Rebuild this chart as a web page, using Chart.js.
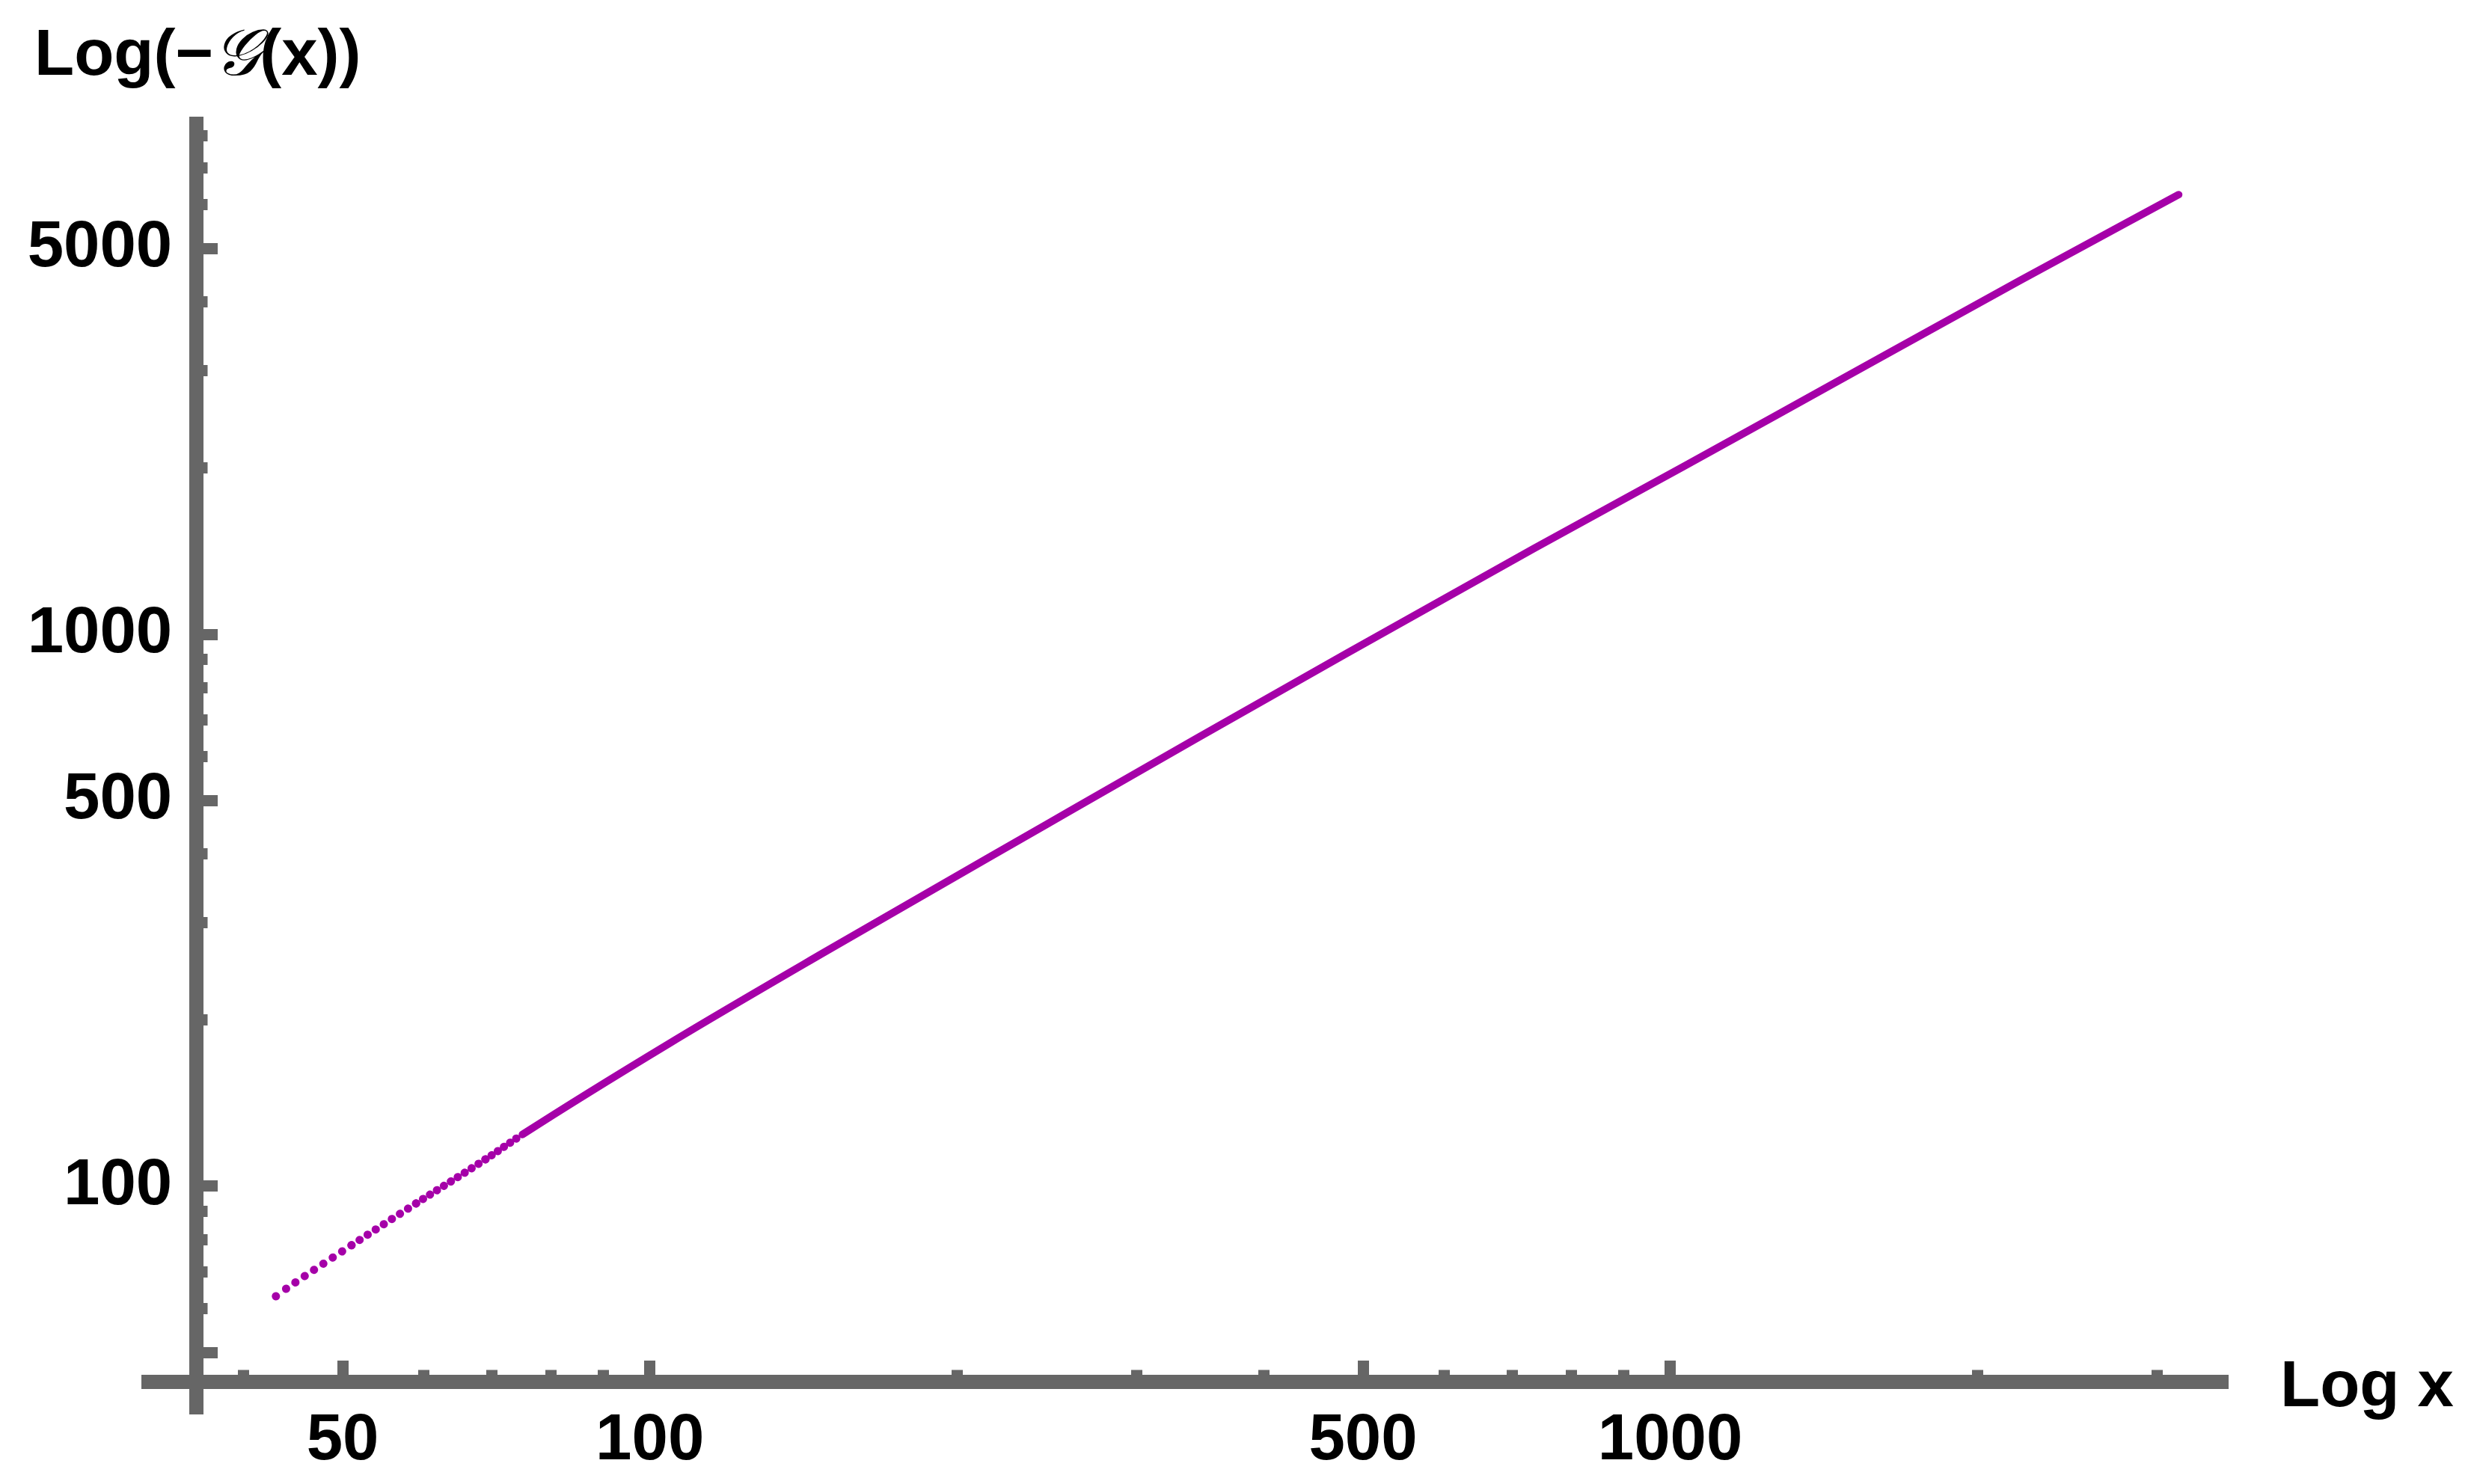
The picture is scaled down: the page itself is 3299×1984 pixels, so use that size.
<!DOCTYPE html>
<html>
<head>
<meta charset="utf-8">
<script src="https://cdn.jsdelivr.net/npm/chart.js@4.4.1/dist/chart.umd.min.js"></script>
<style>
  html, body { margin: 0; padding: 0; background: #fff; }
  #wrap { position: relative; width: 3299px; height: 1984px; }
  .axis-title {
    position: absolute; white-space: nowrap; color: #000;
    font-family: 'Liberation Sans', Arial, sans-serif; font-weight: 700;
    font-size: 87px; line-height: 87px;
  }
  .script { font-family: 'DejaVu Serif', serif; font-style: italic; font-weight: 400; }
</style>
</head>
<body>
<div id="wrap">
  <canvas id="chart"></canvas>
  <div class="axis-title" style="left:46px; top:26px">Log(−<span class="script">𝒢</span>(x))</div>
  <div class="axis-title" style="left:3048px; top:1806px">Log x</div>
</div>
<script>
/* ── values (log-log) ──────────────────────────────────────── */
const xValues = [43, 44, 51, 59, 69, 75, 105, 148, 245, 344, 482, 735, 1030, 1443, 2201, 3150];
const yValues = [63.2, 65.2, 78.2, 93.1, 111.9, 124.1, 182.5, 265, 453, 649, 924, 1430, 2012, 2841, 4374, 6260];

const xMajorTicks = [50, 100, 500, 1000];
const xMinorTicks = [40, 60, 70, 80, 90, 200, 300, 400, 600, 700, 800, 900, 2000, 3000];
const yMajorTicks = [50, 100, 500, 1000, 5000];
const yLabelTicks = [100, 500, 1000, 5000];
const yMinorTicks = [60, 70, 80, 90, 200, 300, 400, 600, 700, 800, 900, 2000, 3000, 4000, 6000, 7000, 8000];

const xRange  = [32.23, 3519.6];
const yRange  = [38.73, 8425];
const xAxisAt = 44.29;   // y value where the x axis sits
const yAxisAt = 35.92;   // x value where the y axis sits
const yLabelsAt = 34.03; // x value of the right edge of the y labels
const dottedUntil = 75;  // sampled points still visible as dots below this x

const AXIS = '#666666';
const LINE = '#a500a8';
const tickFont = { family: "'Liberation Sans', Arial, sans-serif", size: 87, weight: 'bold' };

const setTicks = vals => scale => { scale.ticks = vals.map(v => ({ value: v })); };
const placeAt = (axis, v) => (axis === 'x' ? { y: v } : { x: v });

// axis line + tick marks (Mathematica style axes crossing inside the frame)
function axisScale(axis, range, at, ticks, len, withBorder) {
  return {
    type: 'logarithmic', axis, min: range[0], max: range[1], bounds: 'data',
    position: placeAt(axis, at),
    afterBuildTicks: setTicks(ticks),
    border: { display: withBorder, color: AXIS, width: 19 },
    grid: { drawOnChartArea: false, drawTicks: true, tickLength: len, tickWidth: 15, tickColor: AXIS },
    ticks: { display: false },
  };
}

// tick labels only
function labelScale(axis, range, at, ticks, padding) {
  return {
    type: 'logarithmic', axis, min: range[0], max: range[1], bounds: 'data',
    position: placeAt(axis, at),
    afterBuildTicks: setTicks(ticks),
    border: { display: false },
    grid: { display: false, drawTicks: false },
    ticks: { font: tickFont, color: '#000', padding, autoSkip: false, maxRotation: 0, callback: v => String(v) },
  };
}

const isDotted = ctx => xValues[ctx.p1DataIndex] <= dottedUntil;

new Chart(document.getElementById('chart'), {
  type: 'line',
  data: {
    datasets: [{
      data: xValues.map((x, i) => ({ x, y: yValues[i] })),
      xAxisID: 'x', yAxisID: 'y',
      borderColor: LINE, borderWidth: 10, borderCapStyle: 'round', borderJoinStyle: 'round',
      pointRadius: 0, cubicInterpolationMode: 'monotone',
      segment: {
        borderWidth: ctx => (isDotted(ctx) ? 11 : undefined),
        borderDash: ctx => {
          if (!isDotted(ctx)) return undefined;
          // one dot per integer x, like the sampled points in the original
          const steps = xValues[ctx.p1DataIndex] - xValues[ctx.p0DataIndex];
          const gap = Math.hypot(ctx.p1.x - ctx.p0.x, ctx.p1.y - ctx.p0.y) / steps;
          return [0.1, gap - 0.1];
        },
      },
    }],
  },
  options: {
    responsive: true,
    maintainAspectRatio: false,
    devicePixelRatio: 1,
    animation: false,
    layout: { padding: { left: 198, top: 165, right: 321, bottom: 94 } },
    plugins: { legend: { display: false }, tooltip: { enabled: false } },
    scales: {
      x:  axisScale('x', xRange, xAxisAt, xMajorTicks, -38, true),
      xm: axisScale('x', xRange, xAxisAt, xMinorTicks, -15.5, false),
      y:  axisScale('y', yRange, yAxisAt, yMajorTicks, -38, true),
      ym: axisScale('y', yRange, yAxisAt, yMinorTicks, -15.5, false),
      yl: labelScale('y', yRange, yLabelsAt, yLabelTicks, 0),
      xl: labelScale('x', xRange, xAxisAt, xMajorTicks, 28),
    },
  },
});
</script>
</body>
</html>
